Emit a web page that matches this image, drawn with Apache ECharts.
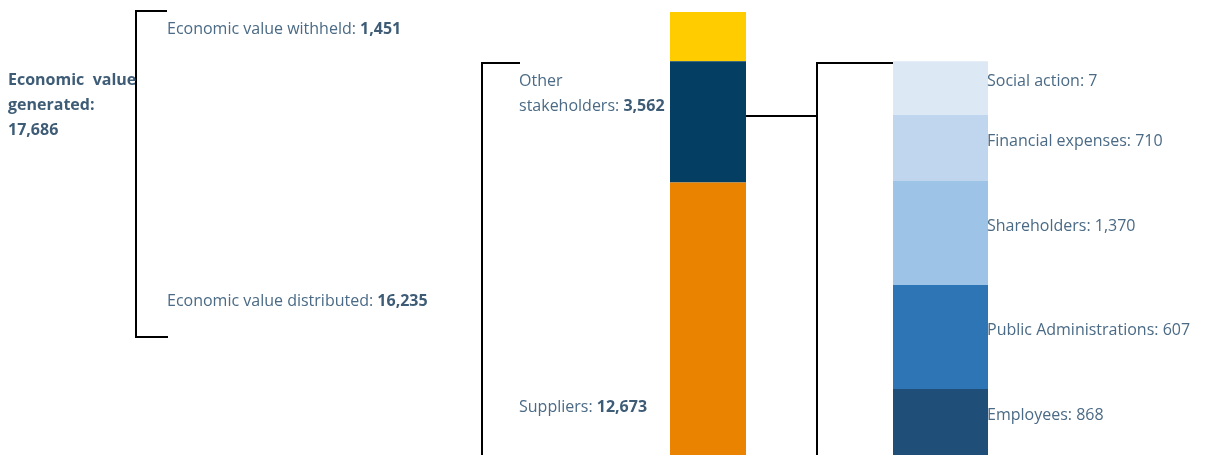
<!DOCTYPE html>
<html>
<head>
<meta charset="utf-8">
<script src="https://cdn.jsdelivr.net/npm/echarts@6/dist/echarts.min.js"></script>
<style>
  html, body { margin: 0; padding: 0; background: #fff; }
  #main { width: 1205px; height: 455px; }
</style>
</head>
<body>
<div id="main"></div>
<script>
// economic value generated and how it splits
var generatedTotal = 17686;
var distributedTotal = 16235;
var genNames = ['Economic value withheld', 'Other stakeholders', 'Suppliers'];
var genValues = [1451, 3562, 12673];
var genColors = ['#FFCC00', '#043F63', '#E98300'];

// other stakeholders broken down
var stakeNames = ['Social action', 'Financial expenses', 'Shareholders', 'Public Administrations', 'Employees'];
var stakeValues = [7, 710, 1370, 607, 868];
// the original draws these blocks not to scale, so their drawn size is read off the picture
var stakeBlocks = [1580, 1940, 3060, 3060, 1940];
var stakeColors = ['#DDE8F5', '#BFD6EE', '#9DC3E6', '#2E75B6', '#1F4E79'];

// the picture is cropped: only this much of the generated bar is visible
var visibleMax = 13030;

var txtColor = '#4A6A85';
var boldColor = '#3E5C76';
var fontFam = '"Open Sans", "Noto Sans", sans-serif';
var fontSz = 16;

function fmt(n) {
  return n.toLocaleString('en-US');
}

var chartDom = document.getElementById('main');
var myChart = echarts.init(chartDom);

var series = [];

genValues.forEach(function (v, i) {
  series.push({
    type: 'bar',
    name: genNames[i],
    stack: 'gen',
    xAxisIndex: 0,
    yAxisIndex: 0,
    barWidth: '100%',
    data: [v],
    itemStyle: { color: genColors[i] },
    emphasis: { disabled: true }
  });
});

// empty space on top of the breakdown, same height as the withheld part
series.push({
  type: 'bar',
  name: 'offset',
  stack: 'dist',
  xAxisIndex: 1,
  yAxisIndex: 1,
  barWidth: '100%',
  data: [genValues[0]],
  itemStyle: { color: 'transparent' },
  emphasis: { disabled: true }
});

stakeBlocks.forEach(function (b, i) {
  series.push({
    type: 'bar',
    name: stakeNames[i],
    stack: 'dist',
    xAxisIndex: 1,
    yAxisIndex: 1,
    barWidth: '100%',
    data: [b],
    itemStyle: { color: stakeColors[i] },
    emphasis: { disabled: true },
    label: {
      show: true,
      position: 'right',
      distance: -1,
      offset: [0, -7],
      color: txtColor,
      fontFamily: fontFam,
      fontSize: fontSz,
      formatter: stakeNames[i] + ': ' + fmt(stakeValues[i])
    }
  });
});

var lineStyle = { stroke: '#000', lineWidth: 2, fill: null };

function bracket(points) {
  return { type: 'polyline', shape: { points: points }, style: lineStyle, silent: true };
}

function label(x, y, normal, bold) {
  return {
    type: 'text',
    x: x,
    y: y,
    silent: true,
    style: {
      text: '{n|' + normal + '}' + (bold ? '{b|' + bold + '}' : ''),
      verticalAlign: 'middle',
      rich: {
        n: { fontFamily: fontFam, fontSize: fontSz, fill: txtColor },
        b: { fontFamily: fontFam, fontSize: fontSz, fill: boldColor, fontWeight: 'bold' }
      }
    }
  };
}

var boldRich = { fontFamily: fontFam, fontSize: fontSz, fill: boldColor, fontWeight: 'bold', lineHeight: 25 };

var option = {
  backgroundColor: '#FFFFFF',
  animation: false,
  grid: [
    { left: 670, width: 76, top: 12, bottom: 0 },
    { left: 893, width: 95, top: 12, bottom: 0 }
  ],
  xAxis: [
    { type: 'category', gridIndex: 0, data: ['generated'], show: false },
    { type: 'category', gridIndex: 1, data: ['distributed'], show: false }
  ],
  yAxis: [
    { type: 'value', gridIndex: 0, inverse: true, min: 0, max: visibleMax, show: false },
    { type: 'value', gridIndex: 1, inverse: true, min: 0, max: visibleMax, show: false }
  ],
  series: series,
  graphic: [
    bracket([[167, 11], [136, 11], [136, 337], [168, 337]]),
    bracket([[520, 63], [482, 63], [482, 470]]),
    bracket([[746, 116], [817, 116]]),
    bracket([[893, 63], [817, 63], [817, 470]]),
    {
      type: 'text',
      x: 8,
      y: 68,
      silent: true,
      style: {
        text: '{b|Economic  value}\n{b|generated:}\n{b|' + fmt(generatedTotal) + '}',
        rich: { b: boldRich }
      }
    },
    label(167, 29, genNames[0] + ': ', fmt(genValues[0])),
    label(167, 301, 'Economic value distributed: ', fmt(distributedTotal)),
    label(519, 81, 'Other', ''),
    label(519, 106, 'stakeholders: ', fmt(genValues[1])),
    label(519, 407, genNames[2] + ': ', fmt(genValues[2]))
  ]
};

myChart.setOption(option);
</script>
</body>
</html>
